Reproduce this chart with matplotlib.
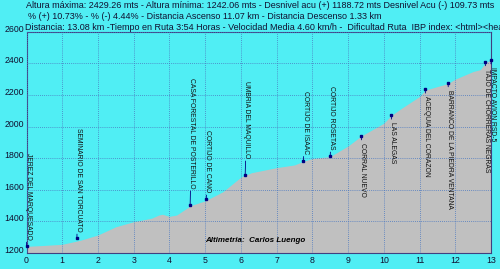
import matplotlib
matplotlib.use('Agg')
import matplotlib.pyplot as plt

# elevation profile (km, metres)
dist = [0.0, 0.5, 1.0, 1.5, 2.0, 2.5, 3.0, 3.5, 3.7, 3.8, 4.0, 4.2, 4.4, 4.6, 5.0,
        5.5, 6.0, 6.12, 6.3, 7.0, 7.5, 7.75, 8.0, 8.5, 9.0, 9.37, 10.0, 10.21,
        10.5, 11.0, 11.16, 11.5, 11.8, 12.0, 12.5, 12.7, 12.85, 13.0, 13.08]
elev = [1242, 1248, 1255, 1280, 1314, 1366, 1398, 1420, 1440, 1445, 1432, 1440,
        1470, 1500, 1530, 1588, 1680, 1692, 1708, 1740, 1757, 1780, 1798, 1810,
        1877, 1940, 2021, 2070, 2116, 2190, 2230, 2253, 2272, 2300, 2348, 2360,
        2405, 2420, 2429]

# waypoints
wp_names = ['JEREZ DEL MARQUESADO', 'SEMINARIO DE SAN TORCUATO',
            'CASA FORESTAL DE POSTERILLO', 'CORTIJO DE CANO', 'UMBRIA DEL MAQUILLO',
            'CORTIJO DE ISAAC', 'CORTIJO ROSETAS', 'CORRAL NUEVO', 'LAS ALEGAS',
            'ACEQUIA DEL CORAZON', 'BARRANCO DE LA PIEDRA VENTANA',
            'TAJO DE CHORRERAS NEGRAS', 'IMPACTO AVION RSD-5']
wp_km = [0.0, 1.41, 4.58, 5.03, 6.12, 7.75, 8.5, 9.37, 10.21, 11.16, 11.8, 12.84, 13.0]
wp_elev = [1242, 1293, 1504, 1540, 1694, 1784, 1812, 1942, 2073, 2238, 2278, 2411, 2422]
wp_above = [True, True, True, True, True, True, True, False, False, False, False, False, False]
# stem length of each label, in points
wp_stem = [5, 5, 12, 5, 12, 5, 5, 5, 5, 5, 5, 5, 5]

header = ['Altura máxima: 2429.26 mts - Altura mínima: 1242.06 mts - Desnivel acu (+) 1188.72 mts Desnivel Acu (-) 109.73 mts',
          '% (+) 10.73% - % (-) 4.44% - Distancia Ascenso 11.07 km - Distancia Descenso 1.33 km',
          'Distancia: 13.08 km -Tiempo en Ruta 3:54 Horas - Velocidad Media 4.60 km/h -  Dificultad Ruta  IBP index: <html><head>']

cyan = '#50EEF4'
plt.rcParams['font.family'] = ['Liberation Sans', 'DejaVu Sans']

fig = plt.figure(figsize=(5, 2.69), dpi=100, facecolor=cyan)
ax = fig.add_axes([26.5/500, 1-253/269, (491-26.5)/500, (253-31.7)/269])
ax.set_facecolor(cyan)

ax.fill_between(dist, 1200, elev, color='#C0C0C0', lw=0, zorder=1)

ax.set_xlim(0, 13)
ax.set_ylim(1200, 2600)
ax.set_xticks(range(0, 14))
ax.set_yticks(range(1200, 2601, 200))
ax.grid(True, color='#4A78C0', lw=0.6, ls=(0, (1, 1.5)), zorder=2)
ax.set_axisbelow(False)
ax.tick_params(length=0, labelsize=6.3, colors='#101030', pad=2)
for lab in ax.get_yticklabels():
    lab.set_va('baseline')
for s in ax.spines.values():
    s.set_color('#404080')
    s.set_linewidth(0.8)

for name, k, e, up, st in zip(wp_names, wp_km, wp_elev, wp_above, wp_stem):
    ax.plot(k, e, 's', ms=2, color='#000080', zorder=4, clip_on=False)
    ax.annotate(name, xy=(k, e), xytext=(1.2, st if up else -st), textcoords='offset points',
                rotation=270, ha='center', va='bottom' if up else 'top',
                fontsize=4.9, color='#101010', annotation_clip=False, zorder=5,
                arrowprops=dict(arrowstyle='-', color='#000080', lw=0.6,
                                shrinkA=0, shrinkB=0))

ax.text(6.4, 1278, 'Altimetria:  Carlos Luengo', ha='center', va='center',
        fontsize=5.8, fontweight='bold', style='italic', color='black', zorder=5)

fig.text(26/500, 1-6/269, header[0], fontsize=6.45, va='center', color='#101030')
fig.text(28/500, 1-16.5/269, header[1], fontsize=6.45, va='center', color='#101030')
fig.text(25/500, 1-27/269, header[2], fontsize=6.45, va='center', color='#101030')

fig.savefig('out.png', dpi=100, facecolor=cyan)
